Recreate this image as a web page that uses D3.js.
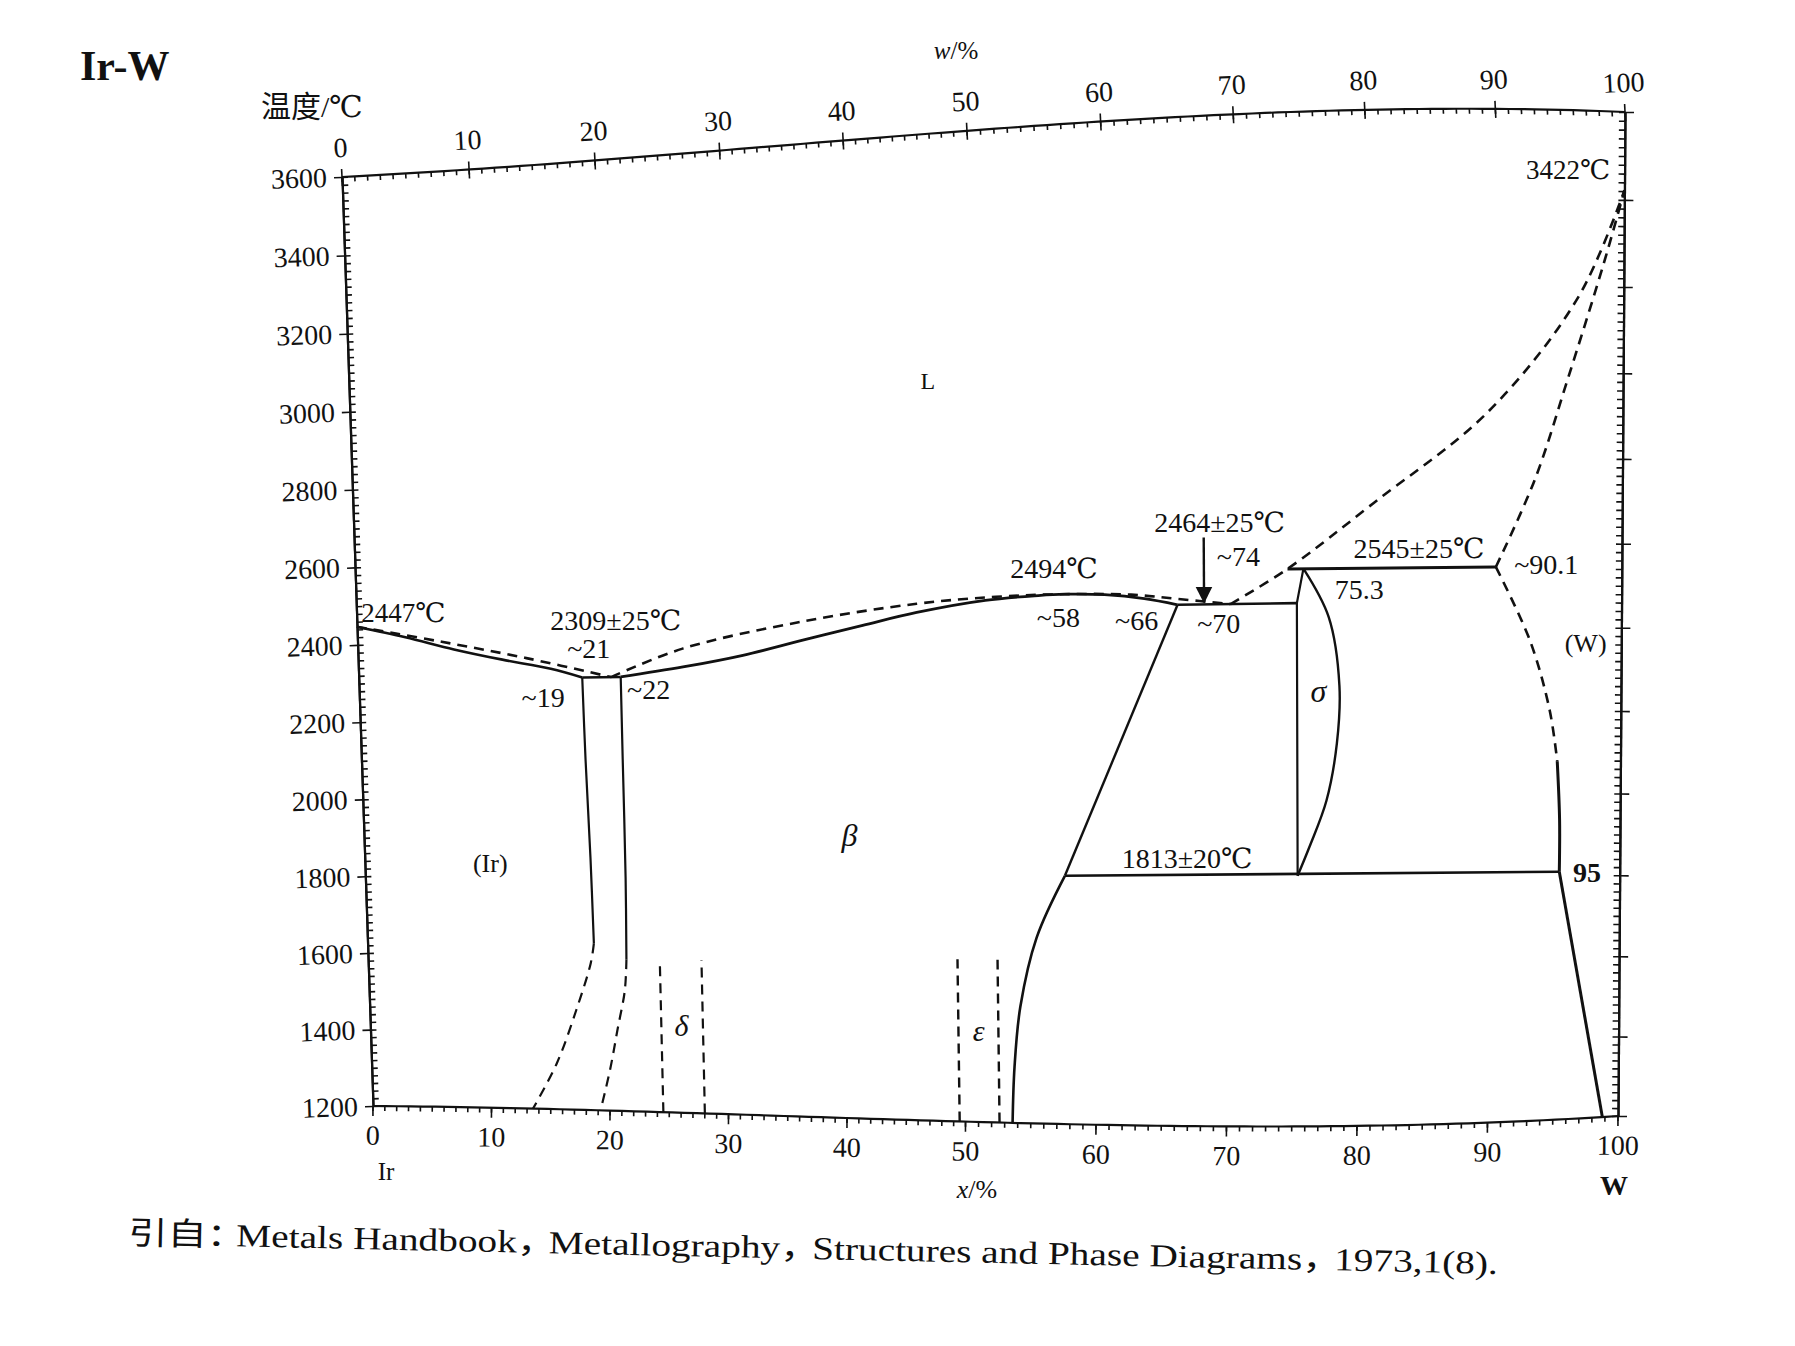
<!DOCTYPE html>
<html><head><meta charset="utf-8">
<script src="https://cdn.jsdelivr.net/npm/d3@7"></script>
<style>
body{margin:0;background:#fff}
svg text{font-family:"Liberation Serif","DejaVu Serif","Noto Sans CJK SC",serif;fill:#111}
.axis path,.axis line{stroke:#111}
</style>
</head><body>
<svg id="c" width="1795" height="1346"></svg>
<script>
// ---------- data (x = at.% W, T = °C) ----------
const xTicks = d3.range(0, 101, 10);          // bottom axis, x/%
const wTicks = d3.range(0, 101, 10);          // top axis, w/%
const tTicks = d3.range(1200, 3601, 200);     // temperature ticks

const liqIr        = [[0,2447],[7,2405],[14,2360],[21,2309]];
const solIr        = [[0,2447],[4,2418],[8,2385],[12,2357],[16,2332],[18.6,2309]];
const eutectic     = [[18.6,2309],[21.8,2309]];
const irSolvus     = [[18.6,2309],[18.7,2100],[18.9,1850],[19,1630]];
const irSolvusLow  = [[19,1630],[18.7,1580],[17.4,1460],[15.6,1318],[13.5,1200]];
const betaLeft     = [[21.8,2309],[21.8,2100],[21.8,1800],[21.7,1591]];
const betaLeftLow  = [[21.7,1591],[21.5,1511],[20.8,1409],[20.1,1307],[19.2,1200]];
const betaLiq      = [[21,2309],[27,2378],[37,2440],[46.5,2478],[52.8,2491],[58,2494],[63,2490],[66.5,2478],[70.5,2464]];
const betaSol      = [[21.8,2309],[27,2332],[32,2359],[37,2394],[42,2428],[46.5,2457],[52,2483],[56,2492],[58,2494],[61,2491],[64,2480],[66.5,2464]];
const peritecticLo = [[66.5,2464],[75.5,2464]];
const liqW         = [[70.5,2464],[74.8,2545],[81.3,2697],[89.9,2908],[96.6,3174],[100,3422]];
const solW         = [[90.5,2545],[93.4,2749],[95.9,2990],[98.5,3254],[100,3422]];
const peritecticHi = [[74.8,2545],[90.5,2545]];
const sigmaLeft    = [[76,2545],[75.5,2464],[75.5,1813]];
const sigmaRight   = [[76,2545],[77.9,2430],[78.7,2267],[78.5,2130],[77.7,1993],[76.4,1882],[75.5,1813]];
const eutectoid    = [[57.8,1813],[95.4,1813]];
const betaRight    = [[53.6,1200],[53.8,1340],[54.3,1490],[55.6,1661],[57.8,1813]];
const betaRightHi  = [[57.8,1813],[66.5,2464]];
const wSolvusHi    = [[90.5,2545],[93.1,2370],[94.6,2205],[95.2,2081]];
const wSolvusMid   = [[95.2,2081],[95.4,1940],[95.4,1813]];
const wSolvusLow   = [[95.4,1813],[98.8,1200]];
const deltaLines   = [[[24.5,1200],[24.5,1592]], [[28,1200],[28,1592]]];
const epsLines     = [[[49.5,1200],[49.5,1605]], [[52.6,1200],[52.6,1605]]];
const arrowLine    = [[68.5,2622],[68.5,2470]];

const labels = [
  {t:"L", x:47.7, T:3016, size:24},
  {t:"(Ir)", x:10.5, T:1835, size:26},
  {t:"β", x:40.6, T:1911, size:32, it:true},
  {t:"δ", x:26.2, T:1424, size:30, it:true},
  {t:"ε", x:51.1, T:1429, size:30, it:true},
  {t:"σ", x:77.1, T:2257, size:32, it:true},
  {t:"(W)", x:97.3, T:2365, size:26},
  {t:"3422℃", x:95.8, T:3466, size:27},
  {t:"2447℃", x:3.9, T:2481, size:27},
  {t:"2309±25℃", x:21.5, T:2453, size:28},
  {t:"~21", x:19.2, T:2382, size:28},
  {t:"~19", x:15.3, T:2261, size:28},
  {t:"~22", x:24.1, T:2278, size:28},
  {t:"2494℃", x:57.2, T:2557, size:28},
  {t:"~58", x:57.5, T:2439, size:28},
  {t:"~66", x:63.4, T:2428, size:28},
  {t:"~70", x:69.6, T:2420, size:28},
  {t:"2464±25℃", x:69.7, T:2658, size:28},
  {t:"~74", x:71.1, T:2576, size:28},
  {t:"2545±25℃", x:84.7, T:2589, size:28},
  {t:"~90.1", x:94.3, T:2552, size:28},
  {t:"75.3", x:80.2, T:2496, size:28},
  {t:"1813±20℃", x:67.1, T:1857, size:28},
  {t:"95", x:97.5, T:1810, size:28, bold:true}
];

// ---------- layout: the scanned sheet is slightly skewed and bowed ----------
const TL=[342,177], TR=[1625,112], BL=[373,1106], BR=[1618,1116];
const BOW_L=13.7, BOW_R=55, BOW_T=-119, BOW_B=91.6;
const xs = d3.scaleLinear().domain([0,50,100]).range([0,0.476,1]);   // horizontal fraction
const ys = d3.scaleLinear().domain([3600,1200]).range([0,1]);         // vertical fraction
const topBow = u => BOW_T*u*u*(1-u);
const botBow = u => BOW_B*u*u*(1-u);
function bowOff(u,v){
  return v*(1-v)*((1-u)*BOW_L+u*BOW_R) + (1-v)*topBow(u) + v*botBow(u);
}
function P(d){
  const u=xs(d[0]), v=ys(d[1]);
  const tx=TL[0]+u*(TR[0]-TL[0]), ty=TL[1]+u*(TR[1]-TL[1]);
  const bx=BL[0]+u*(BR[0]-BL[0]), by=BL[1]+u*(BR[1]-BL[1]);
  return [tx+v*(bx-tx), ty+v*(by-ty)+bowOff(u,v)];
}
const wtToAt = w => (w/183.84)/((w/183.84)+((100-w)/192.217))*100;

const svg=d3.select("#c");
const deg = r => r*180/Math.PI;
function edge(a,b){return {len:Math.hypot(b[0]-a[0],b[1]-a[1]), ang:deg(Math.atan2(b[1]-a[1],b[0]-a[0]))};}
const tGrid=d3.range(3600,1199,-20);

// left axis
const eL=edge(TL,BL);
const yL=d3.scaleLinear().domain(tGrid).range(tGrid.map(t=>{const v=ys(t);return v*eL.len+v*(1-v)*BOW_L;}));
const gL=svg.append("g").attr("class","axis").attr("transform",`translate(${TL}) rotate(${eL.ang-90})`);
gL.call(d3.axisLeft(yL).tickValues(tTicks).tickSize(8).tickSizeOuter(0).tickPadding(7).tickFormat(d3.format("d")));
gL.append("g").call(d3.axisLeft(yL).tickValues(d3.range(1200,3601,20)).tickSize(-6).tickSizeOuter(0).tickFormat(""));
// right axis
const eR=edge(TR,BR);
const yR=d3.scaleLinear().domain(tGrid).range(tGrid.map(t=>{const v=ys(t);return v*eR.len+v*(1-v)*BOW_R;}));
const gR=svg.append("g").attr("class","axis").attr("transform",`translate(${TR}) rotate(${eR.ang-90})`);
gR.call(d3.axisRight(yR).tickValues(tTicks).tickSize(9).tickSizeOuter(0).tickFormat(""));
gR.append("g").call(d3.axisRight(yR).tickValues(d3.range(1200,3601,20)).tickSize(-6).tickSizeOuter(0).tickFormat(""));

// bend a horizontal axis group along a bow function of u
function bend(g, scale, uOf, bow, len){
  g.selectAll(".tick").attr("transform", d=>`translate(${scale(d)},${bow(uOf(d))})`);
  g.selectAll("path.domain").attr("d", d3.line()(d3.range(0,1.0001,0.01).map(u=>[u*len,bow(u)])));
}
// bottom axis
const eB=edge(BL,BR);
const xB=d3.scaleLinear().domain([0,50,100]).range([0,xs(50)*eB.len,eB.len]);
const gB=svg.append("g").attr("class","axis").attr("transform",`translate(${BL}) rotate(${eB.ang})`);
gB.call(d3.axisBottom(xB).tickValues(xTicks).tickSize(10).tickSizeOuter(0).tickPadding(9));
const gB2=gB.append("g").call(d3.axisBottom(xB).tickValues(d3.range(0,101,1)).tickSize(5).tickSizeOuter(0).tickFormat(""));
bend(gB,xB,xs,botBow,eB.len); bend(gB2,xB,xs,botBow,eB.len);
// top axis (w/%)
const eT=edge(TL,TR);
const wGrid=d3.range(0,101,1);
const xT=d3.scaleLinear().domain(wGrid).range(wGrid.map(w=>xs(wtToAt(w))*eT.len));
const uW=w=>xs(wtToAt(w));
const gT=svg.append("g").attr("class","axis").attr("transform",`translate(${TL}) rotate(${eT.ang})`);
gT.call(d3.axisTop(xT).tickValues(wTicks).tickSize(8).tickSizeOuter(0).tickPadding(12));
const gT2=gT.append("g").call(d3.axisTop(xT).tickValues(wTicks).tickSize(-9).tickSizeOuter(0).tickFormat(""));
const gT3=gT.append("g").call(d3.axisTop(xT).tickValues(wGrid).tickSize(-5).tickSizeOuter(0).tickFormat(""));
bend(gT,xT,uW,topBow,eT.len); bend(gT2,xT,uW,topBow,eT.len); bend(gT3,xT,uW,topBow,eT.len);
gT2.select("path.domain").remove(); gT3.select("path.domain").remove(); gB2.select("path.domain").remove();

svg.selectAll(".axis path.domain").attr("stroke-width",2.2).attr("fill","none");
svg.selectAll(".axis line").attr("stroke-width",1.6);
svg.selectAll(".axis text").attr("font-size",28).attr("font-family",'"Liberation Serif",serif').attr("fill","#111");

// ---------- phase boundaries ----------
const curve=d3.line().x(d=>P(d)[0]).y(d=>P(d)[1]).curve(d3.curveCatmullRom.alpha(0.5));
const straight=d3.line().x(d=>P(d)[0]).y(d=>P(d)[1]);
const plot=svg.append("g").attr("fill","none").attr("stroke","#111").attr("stroke-linecap","butt");
function draw(data,gen,dashed,w){
  plot.append("path").attr("d",gen(data)).attr("stroke-width",w||2.6)
    .attr("stroke-dasharray",dashed?"10,7":null);
}
draw(liqIr,curve,true);
draw(solIr,curve,false);
draw(eutectic,straight,false);
draw(irSolvus,curve,false,2.2);
draw(irSolvusLow,curve,true,2.2);
draw(betaLeft,curve,false,2.2);
draw(betaLeftLow,curve,true,2.2);
draw(betaLiq,curve,true);
draw(betaSol,curve,false,2.8);
draw(peritecticLo,straight,false);
draw(liqW,curve,true);
draw(solW,curve,true);
draw(peritecticHi,straight,false,3);
draw(sigmaLeft,straight,false,2.2);
draw(sigmaRight,curve,false,2.4);
draw(eutectoid,straight,false);
draw(betaRight,curve,false);
draw(betaRightHi,straight,false,2.4);
draw(wSolvusHi,curve,true);
draw(wSolvusMid,curve,false,3);
draw(wSolvusLow,straight,false,3);
deltaLines.forEach(l=>draw(l,straight,true,2.2));
epsLines.forEach(l=>draw(l,straight,true,2.4));

// arrow
svg.append("defs").append("marker").attr("id","ah").attr("viewBox","0 0 10 10")
  .attr("refX",9).attr("refY",5).attr("markerWidth",7).attr("markerHeight",9).attr("orient","auto")
  .append("path").attr("d","M0,0 L10,5 L0,10 Z").attr("fill","#111");
plot.append("path").attr("d",straight(arrowLine)).attr("stroke-width",2.4).attr("marker-end","url(#ah)");

// ---------- labels ----------
svg.append("g").selectAll("text").data(labels).join("text")
  .attr("x",d=>P([d.x,d.T])[0]).attr("y",d=>P([d.x,d.T])[1])
  .attr("text-anchor","middle").attr("dy","0.35em")
  .attr("font-size",d=>d.size)
  .attr("font-style",d=>d.it?"italic":null)
  .attr("font-weight",d=>d.bold?"bold":null)
  .text(d=>d.t);

// titles & axis names
svg.append("text").attr("x",80).attr("y",80).attr("font-size",42).attr("font-weight","bold").text("Ir-W");
svg.append("text").attr("x",261).attr("y",117).attr("font-size",30)
  .attr("font-family",'"Noto Sans CJK SC","Liberation Serif",serif').text("温度/℃");
svg.append("text").attr("x",956).attr("y",59).attr("font-size",25).attr("text-anchor","middle")
  .html('<tspan font-style="italic">w</tspan>/%');
svg.append("text").attr("x",977).attr("y",1198).attr("font-size",26).attr("text-anchor","middle")
  .html('<tspan font-style="italic">x</tspan>/%');
svg.append("text").attr("x",386).attr("y",1180).attr("font-size",25).attr("text-anchor","middle").text("Ir");
svg.append("text").attr("x",1614).attr("y",1195).attr("font-size",28).attr("font-weight","bold").attr("text-anchor","middle").text("W");
const cap=svg.append("text").attr("transform","translate(128,1244) rotate(1.25)")
  .attr("font-size",32).attr("textLength",1370).attr("lengthAdjust","spacingAndGlyphs");
[["引自：",0],["Metals Handbook，",-8],["Metallography，",-6],["Structures and Phase Diagrams，",-6],["1973,1(8).",-6]]
  .forEach(([s,dx])=>cap.append("tspan").attr("dx",dx).text(s));
</script>
</body></html>
